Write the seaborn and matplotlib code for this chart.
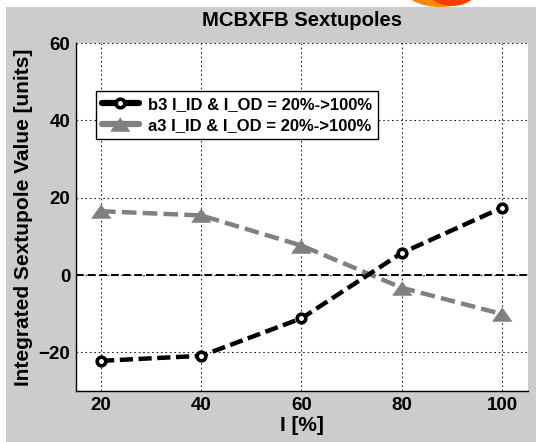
import matplotlib
matplotlib.use("Agg")
import matplotlib.pyplot as plt
from matplotlib.patches import Rectangle, Ellipse
import seaborn as sns
import pandas as pd

# ---- data ----
current_pct = [20, 40, 60, 80, 100]
b3_values = [-22.2, -20.9, -11.2, 5.7, 17.4]
a3_values = [16.5, 15.4, 7.6, -3.3, -10.1]
b3_label = "b3 I_ID & I_OD = 20%->100%"
a3_label = "a3 I_ID & I_OD = 20%->100%"
x_ticks = [20, 40, 60, 80, 100]
y_ticks = [-20, 0, 20, 40, 60]
title = "MCBXFB Sextupoles"
x_label = "I [%]"
y_label = "Integrated Sextupole Value [units]"

sns.set_style("white")
plt.rcParams['font.family'] = ['Liberation Sans', 'DejaVu Sans']
plt.rcParams['font.weight'] = 'bold'
plt.rcParams['text.color'] = 'black'
plt.rcParams['axes.labelcolor'] = 'black'
plt.rcParams['xtick.color'] = 'black'
plt.rcParams['ytick.color'] = 'black'

W, H = 536, 442
fig = plt.figure(figsize=(W / 100, H / 100), dpi=100, facecolor='white')

# decorative orange blob peeking at top edge
fig.patches.append(Ellipse((440 / W, 1 + 16 / H), 80 / W, 46 / H, transform=fig.transFigure,
                           facecolor='#ff8a00', edgecolor='none', zorder=-4))
fig.patches.append(Ellipse((452 / W, 1 + 16 / H), 56 / W, 44 / H, transform=fig.transFigure,
                           facecolor='#ff3d00', edgecolor='none', zorder=-3))
# gray figure panel
fig.patches.append(Rectangle((6 / W, 0), 1 - 6 / W, 1 - 7 / H, transform=fig.transFigure,
                             facecolor='#cccccc', edgecolor='none', zorder=-2))

ax = fig.add_axes([76 / W, (H - 391) / H, (528 - 76) / W, (391 - 43) / H])
ax.set_facecolor('white')

df_b3 = pd.DataFrame({"x": current_pct, "y": b3_values})
df_a3 = pd.DataFrame({"x": current_pct, "y": a3_values})

lw = 3.2
sns.lineplot(data=df_b3, x="x", y="y", ax=ax, color='black', lw=lw,
             dashes=False, marker='o', markersize=6.2, markerfacecolor='white',
             markeredgecolor='black', markeredgewidth=2.6, label=b3_label, zorder=4)
ax.lines[-1].set_linestyle((0, (9.5 / lw, 4.0 / lw)))
tri = [(0, 0.7), (-1, -0.7), (1, -0.7)]
sns.lineplot(data=df_a3, x="x", y="y", ax=ax, color='#808080', lw=lw,
             dashes=False, marker=tri, markersize=14, markerfacecolor='#808080',
             markeredgecolor='#808080', markeredgewidth=0.5, label=a3_label, zorder=3)
ax.lines[-1].set_linestyle((0, (10.5 / lw, 4.5 / lw)))

ax.axhline(0, color='black', lw=1.4, linestyle=(0, (4, 2)), zorder=2)

ax.set_xlim(15, 105.2)
ax.set_ylim(-30, 60)
ax.set_xticks(x_ticks)
ax.set_yticks(y_ticks)
ax.grid(True, color='black', lw=0.8, linestyle=(0, (1.5, 2.5)), alpha=0.85)
ax.tick_params(axis='both', length=0, labelsize=13.5, pad=4, labelcolor='black')
for lab in ax.get_xticklabels() + ax.get_yticklabels():
    lab.set_fontweight('bold')

for s in ['top', 'right']:
    ax.spines[s].set_visible(False)
for s in ['left', 'bottom']:
    ax.spines[s].set_color('black')
    ax.spines[s].set_linewidth(1.0)

ax.set_xlabel(x_label, fontsize=15, fontweight='bold', labelpad=2, color='black')
ax.set_ylabel(y_label, fontsize=15, fontweight='bold', labelpad=4, color='black')
ax.set_title(title, fontsize=14.6, fontweight='bold', pad=12.5, color='black')

leg = ax.legend(loc='upper left', bbox_to_anchor=(20 / 452, (391 - 91) / 348),
                borderaxespad=0, fancybox=False, framealpha=1, edgecolor='black',
                prop={'size': 12, 'weight': 'bold'}, handlelength=2.2,
                handletextpad=0.55, labelspacing=0.35, borderpad=0.35)
leg.get_frame().set_linewidth(1.0)
for t in leg.get_texts():
    t.set_color('black')
for h in leg.legend_handles:
    h.set_linestyle('-')
    h.set_linewidth(4.5)

fig.savefig("out.png", dpi=100, facecolor=fig.get_facecolor())
